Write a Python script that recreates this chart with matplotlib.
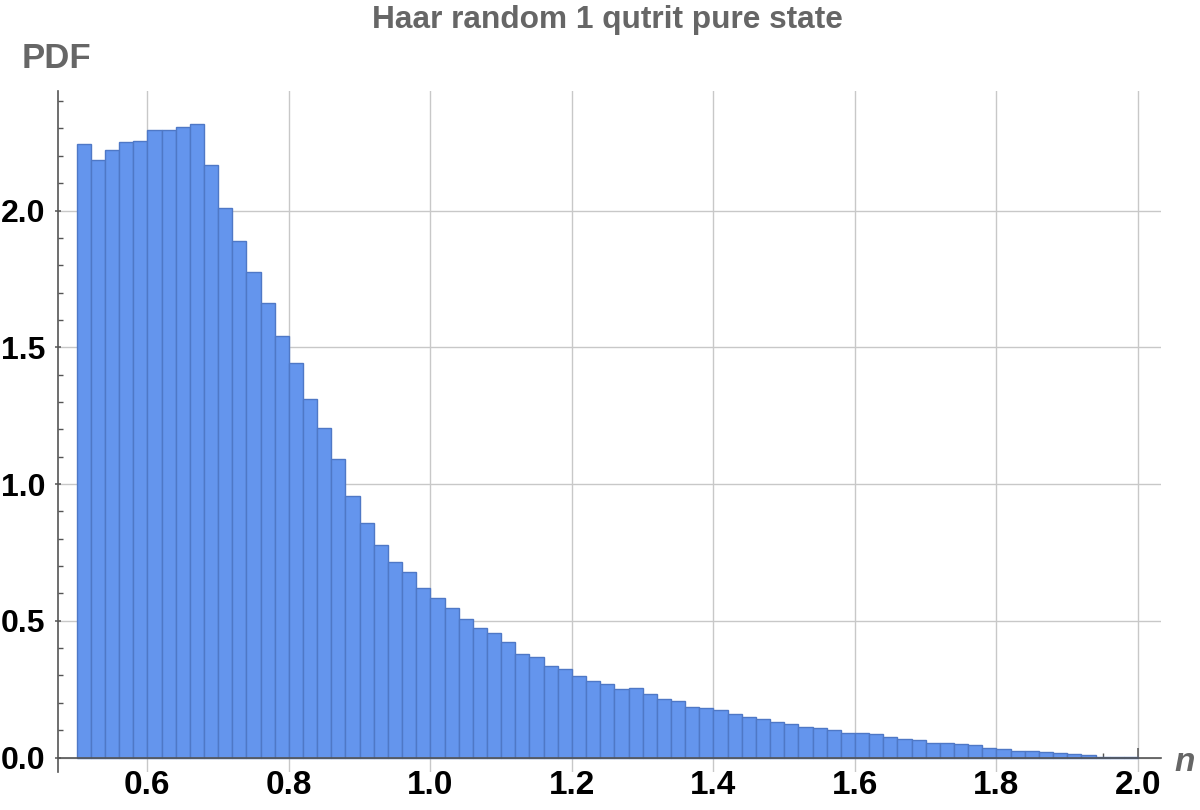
import numpy as np
import matplotlib.pyplot as plt

plt.rcParams['font.family'] = ['Liberation Sans', 'DejaVu Sans']

# Histogram data (bin width 0.02, from 0.5 to 2.0)
bin_start = 0.5
bin_width = 0.02
pdf = [2.243, 2.184, 2.220, 2.249, 2.254, 2.293, 2.293, 2.304, 2.315, 2.165,
       2.008, 1.887, 1.774, 1.662, 1.540, 1.441, 1.310, 1.204, 1.090, 0.955,
       0.856, 0.776, 0.714, 0.677, 0.619, 0.582, 0.546, 0.505, 0.472, 0.454,
       0.421, 0.377, 0.366, 0.333, 0.322, 0.297, 0.279, 0.268, 0.249, 0.253,
       0.231, 0.213, 0.205, 0.183, 0.180, 0.173, 0.158, 0.147, 0.140, 0.129,
       0.121, 0.111, 0.108, 0.101, 0.088, 0.088, 0.085, 0.075, 0.068, 0.063,
       0.052, 0.052, 0.048, 0.045, 0.034, 0.030, 0.023, 0.023, 0.019, 0.015,
       0.012, 0.008, 0.003, 0.003, 0.001]

x_ticks = [0.6, 0.8, 1.0, 1.2, 1.4, 1.6, 1.8, 2.0]
y_ticks = [0.0, 0.5, 1.0, 1.5, 2.0]

title = "Haar random 1 qutrit pure state"
gray = '#666666'

lefts = bin_start + bin_width * np.arange(len(pdf))

fig = plt.figure(figsize=(12, 8.1), dpi=100)
ax = fig.add_axes([57.5 / 1200, 1 - 772 / 810, (1161 - 57.5) / 1200, (772 - 91) / 810])

ax.bar(lefts, pdf, width=bin_width, align='edge', color='#6495ed',
       edgecolor='#4f78c6', linewidth=1.0, zorder=2)

ax.set_xlim(0.473, 2.0325)
ax.set_ylim(-0.053, 2.437)

# axes like Mathematica: x axis at y=0, no frame
ax.spines['top'].set_visible(False)
ax.spines['right'].set_visible(False)
ax.spines['bottom'].set_position(('data', 0))
for s in ['left', 'bottom']:
    ax.spines[s].set_color('#555555')
    ax.spines[s].set_linewidth(1.2)
    ax.spines[s].set_zorder(3)

ax.set_xticks(x_ticks)
ax.set_xticklabels([f"{v:.1f}" for v in x_ticks])
ax.set_yticks(y_ticks)
ax.set_yticklabels([f"{v:.1f}" for v in y_ticks])
ax.set_xticks(np.arange(0.55, 2.03, 0.05), minor=True)
ax.set_yticks(np.arange(0.1, 2.45, 0.1), minor=True)

ax.tick_params(axis='x', which='major', direction='in', length=7, width=1.1,
               color='#555555', labelsize=24, pad=9)
ax.tick_params(axis='y', which='major', direction='inout', length=5, width=1.1,
               color='#555555', labelsize=23, pad=6)
ax.tick_params(which='minor', direction='in', length=3.5, width=1.0, color='#555555')
for lbl in ax.get_xticklabels() + ax.get_yticklabels():
    lbl.set_fontweight('bold')
    lbl.set_color('black')

ax.grid(True, which='major', color='#c8c8c8', linewidth=1.0)
ax.set_axisbelow(True)

fig.text(607 / 1200, 1 - 28 / 810, title, ha='center', va='baseline',
         fontsize=22.8, fontweight='bold', color=gray)
fig.text(21.7 / 1200, 1 - 68.3 / 810, "PDF", ha='left', va='baseline',
         fontsize=25, fontweight='bold', color=gray)
fig.text(1174 / 1200, 1 - 771 / 810, "n", ha='left', va='baseline',
         fontsize=24, fontweight='bold', style='italic', color=gray)

plt.savefig('out.png', dpi=100)
